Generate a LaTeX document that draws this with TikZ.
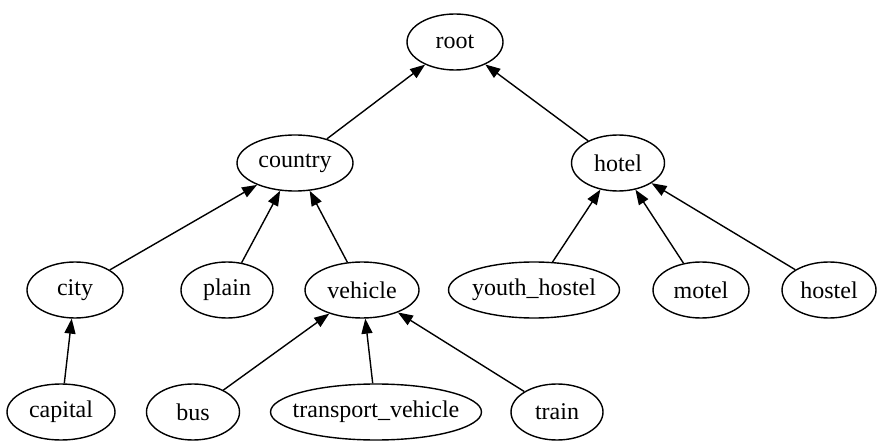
\documentclass[tikz,border=0pt]{standalone}
\usepackage{fontspec}
\setmainfont{Liberation Serif}
\usetikzlibrary{shapes.geometric,arrows.meta}
\newcommand{\lblbox}[1]{\makebox[0pt]{#1}}
\begin{document}
\begin{tikzpicture}[x=1pt,y=-1pt,
  nd/.style={draw,ellipse,line width=1.4pt,inner sep=0pt,minimum height=56pt,font=\fontsize{24}{28}\selectfont},
  edge/.style={line width=1.4pt,-{Triangle[length=15pt,width=11pt]}}]
\useasboundingbox (0,0) rectangle (877,443);
\node[nd,minimum width=96pt] (root) at (455,42) {\lblbox{root}};
\node[nd,minimum width=116pt] (country) at (295,163) {\lblbox{country}};
\node[nd,minimum width=93pt] (hotel) at (618,163) {\lblbox{hotel}};
\node[nd,minimum width=96pt] (city) at (75,290) {\lblbox{city}};
\node[nd,minimum width=92pt] (plain) at (227,290) {\lblbox{plain}};
\node[nd,minimum width=114pt] (vehicle) at (362,290) {\lblbox{vehicle}};
\node[nd,minimum width=171pt] (yh) at (534,290) {\lblbox{youth\_hostel}};
\node[nd,minimum width=96pt] (motel) at (701,290) {\lblbox{motel}};
\node[nd,minimum width=94pt] (hostel) at (829,290) {\lblbox{hostel}};
\node[nd,minimum width=108pt] (capital) at (61,412) {\lblbox{capital}};
\node[nd,minimum width=93pt] (bus) at (193,412) {\lblbox{bus}};
\node[nd,minimum width=211pt] (tv) at (376,412) {\lblbox{transport\_vehicle}};
\node[nd,minimum width=92pt] (train) at (557,412) {\lblbox{train}};
\draw[edge] (country) -- (root);
\draw[edge] (hotel) -- (root);
\draw[edge] (city) -- (country);
\draw[edge] (plain) -- (country);
\draw[edge] (vehicle) -- (country);
\draw[edge] (yh) -- (hotel);
\draw[edge] (motel) -- (hotel);
\draw[edge] (hostel) -- (hotel);
\draw[edge] (capital) -- (city);
\draw[edge] (bus) -- (vehicle);
\draw[edge] (tv) -- (vehicle);
\draw[edge] (train) -- (vehicle);
\end{tikzpicture}
\end{document}
